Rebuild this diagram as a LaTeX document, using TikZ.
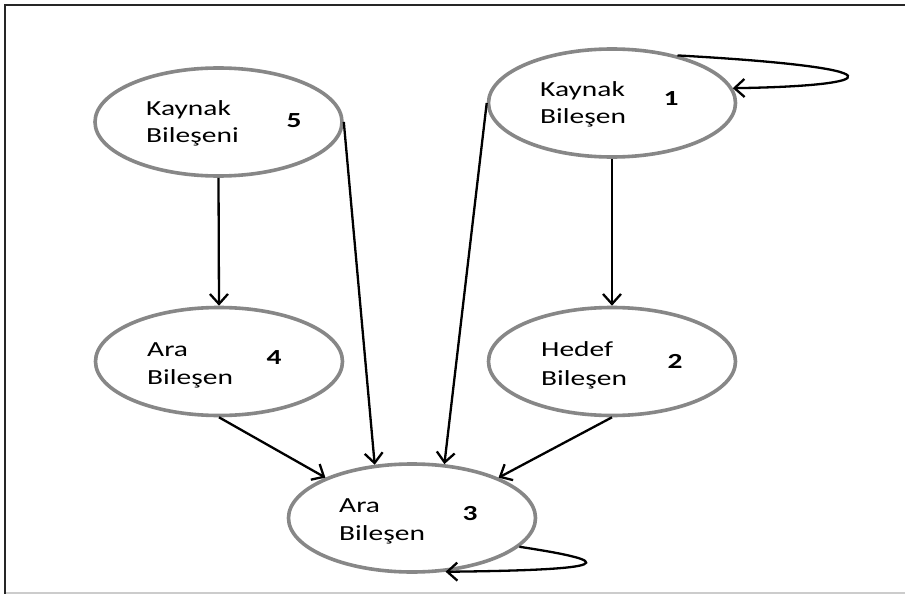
\documentclass[tikz,border=0pt]{standalone}
\usepackage{fontspec}
\setmainfont[FakeStretch=1.37]{Carlito}
\usetikzlibrary{shapes.geometric,arrows.meta}
\tikzset{
  comp/.style={ellipse, draw=black!47, line width=3.6pt, minimum width=247pt, minimum height=108pt, inner sep=0pt},
  lbl/.style={anchor=base west, inner sep=0pt, font=\fontsize{21.5}{27}\selectfont},
  num/.style={anchor=base, inner sep=0pt, font=\fontsize{21.5}{27}\selectfont\bfseries},
  conn/.style={line width=2.3pt, black, -{Straight Barb[length=10pt,width=18pt,line width=2.3pt]}},
}
\begin{document}
\begin{tikzpicture}[x=1pt,y=-1pt]
\useasboundingbox (0,0) rectangle (905,594);
\fill[white] (0,0) rectangle (905,594);
% frame
\draw[black!20, line width=2pt] (5,593) -- (905,593);
\draw[black!85, line width=2.2pt] (5,594) -- (5,5) -- (905,5);
% components
\node[comp] (e5) at (218.5,122) {};
\node[comp] (e1) at (612,103) {};
\node[comp] (e4) at (219,361.5) {};
\node[comp] (e2) at (612,361.5) {};
\node[comp] (e3) at (412,518) {};
% labels
\node[lbl] (t5a) at (146,115.7) {Kaynak};
\node[lbl] (t5b) at (146,142.7) {Bileşeni};
\node[num] (n5) at (294,127) {5};
\node[lbl] (t1a) at (540,96.7) {Kaynak};
\node[lbl] (t1b) at (540,123.7) {Bileşen};
\node[num] (n1) at (671,105) {1};
\node[lbl] (t4a) at (147,356.7) {Ara};
\node[lbl] (t4b) at (147,384.3) {Bileşen};
\node[num] (n4) at (274,364) {4};
\node[lbl] (t2a) at (541,356.7) {Hedef};
\node[lbl] (t2b) at (541,385) {Bileşen};
\node[num] (n2) at (675,368) {2};
\node[lbl] (t3a) at (339,512.7) {Ara};
\node[lbl] (t3b) at (339,540.7) {Bileşen};
\node[num] (n3) at (470,520) {3};
% connectors
\draw[conn] (e5.south) -- (e4.north);
\draw[conn] (e1.south) -- (e2.north);
\draw[conn] (e5.east) -- (e3.125);
\draw[conn] (e1.west) -- (e3.59);
\draw[conn] (e4.south) -- (e3.155);
\draw[conn] (e2.south) -- (e3.25);
\draw[conn] (e1.36) .. controls (905,68) and (885,86) .. (e1.7);
\draw[conn] (e3.-15) .. controls (620,562) and (615,570) .. (e3.-58);
\end{tikzpicture}
\end{document}
